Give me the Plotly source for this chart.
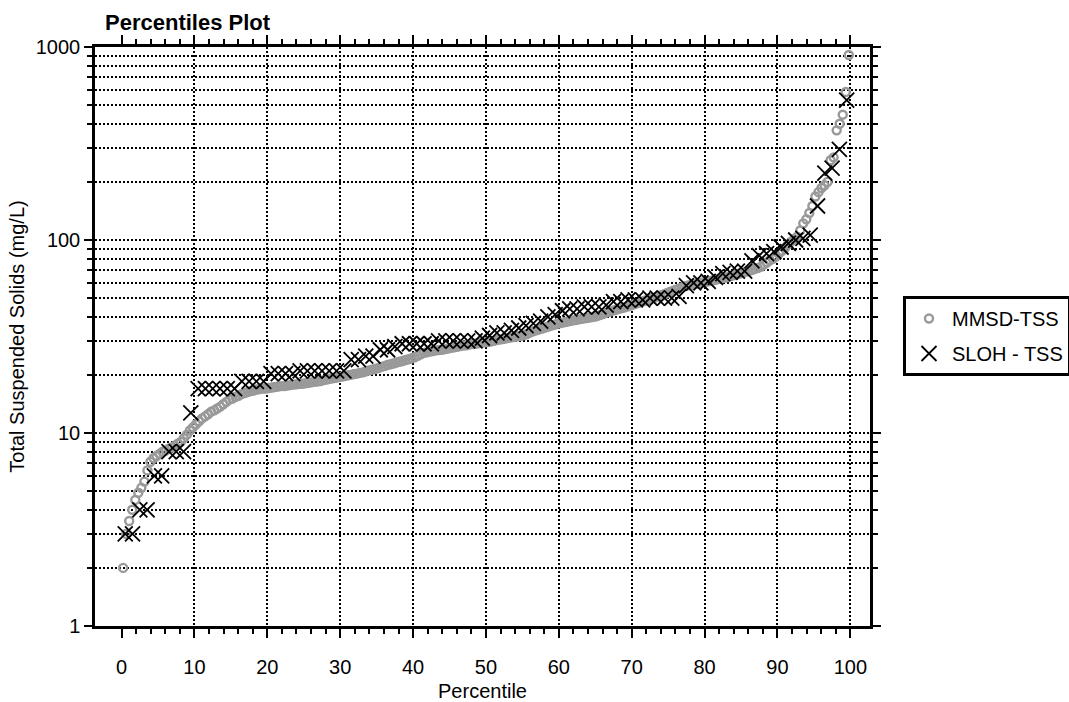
import plotly.graph_objects as go

# ---- data (sorted values) ----
mmsd_values = [
    2.0, 3.0, 3.5, 4.0, 4.5, 4.9, 5.2, 5.6, 6.4, 7.1,
    7.4, 7.6, 7.8, 8.0, 8.1, 8.3, 8.4, 8.6, 8.8, 9.0,
    9.4, 9.8, 10.3, 10.7, 11.1, 11.5, 11.9, 12.2, 12.5, 12.9,
    13.1, 13.4, 13.7, 14.1, 14.5, 14.9, 15.1, 15.4, 15.6, 15.9,
    16.1, 16.3, 16.5, 16.6, 16.8, 16.9, 17.0, 17.0, 17.1, 17.2,
    17.3, 17.4, 17.5, 17.5, 17.6, 17.7, 17.8, 17.9, 18.0, 18.0,
    18.1, 18.2, 18.3, 18.4, 18.5, 18.6, 18.8, 18.9, 19.1, 19.2,
    19.3, 19.5, 19.6, 19.7, 19.9, 20.0, 20.2, 20.3, 20.5, 20.6,
    20.9, 21.1, 21.3, 21.5, 21.7, 22.0, 22.2, 22.5, 22.7, 22.9,
    23.2, 23.4, 23.6, 23.9, 24.1, 24.4, 24.7, 25.1, 25.6, 26.0,
    26.2, 26.4, 26.6, 26.8, 26.9, 27.0, 27.2, 27.4, 27.6, 27.8,
    28.0, 28.2, 28.4, 28.5, 28.7, 28.9, 29.0, 29.2, 29.4, 29.5,
    29.6, 29.8, 30.0, 30.3, 30.5, 30.7, 30.9, 31.1, 31.3, 31.5,
    31.7, 31.9, 32.2, 32.6, 33.1, 33.6, 34.0, 34.4, 34.8, 35.2,
    35.6, 36.0, 36.4, 36.8, 37.1, 37.4, 37.7, 38.0, 38.3, 38.5,
    38.8, 39.0, 39.3, 39.5, 39.8, 40.0, 40.3, 40.8, 41.3, 41.9,
    42.4, 42.9, 43.4, 43.9, 44.3, 44.7, 45.2, 45.8, 46.3, 46.9,
    47.4, 48.0, 48.6, 49.2, 49.8, 50.3, 50.9, 51.6, 52.3, 53.0,
    53.8, 54.5, 55.3, 56.0, 56.8, 57.5, 58.2, 58.5, 58.9, 59.3,
    59.8, 60.3, 60.7, 61.2, 61.7, 62.2, 62.7, 63.2, 63.7, 64.2,
    64.9, 65.6, 66.3, 67.0, 67.7, 68.4, 69.1, 69.9, 70.8, 71.6,
    72.6, 74.5, 76.5, 78.5, 80.0, 82.0, 85.0, 88.0, 91.0, 95.0,
    98.0, 101.0, 104.0, 112.0, 122.0, 128.0, 138.0, 150.0, 168.0, 177.0,
    186.0, 192.0, 200.0, 259.0, 268.0, 370.0, 400.0, 446.0, 585.0, 909.0,
]

sloh_values = [
    3, 3, 4, 4, 6, 6, 8, 8, 8, 12.7,
    17, 17, 17, 17, 17, 17, 18.5, 18.5, 18.5, 18.5,
    20.3, 20.3, 20.3, 20.3, 21, 21, 21, 21, 21, 21,
    21, 24, 24, 25, 25, 27, 27, 28, 29, 29,
    29, 29, 29, 30, 30, 30, 30, 30, 30, 31,
    32, 33, 33, 34, 35, 36, 37, 38, 40, 41,
    43, 44, 44, 45, 45, 45, 46, 48, 48, 49,
    49, 49, 50, 50, 50, 50, 51, 58, 60, 60,
    61, 64, 67, 68, 69, 69, 78, 83, 85, 87,
    92, 96, 100, 102, 106, 150, 222, 236, 295, 530,
]

# percentile = rank position within each sorted sample
mmsd_pct = [100.0 * (i + 0.5) / len(mmsd_values) for i in range(len(mmsd_values))]
sloh_pct = [100.0 * (i + 0.5) / len(sloh_values) for i in range(len(sloh_values))]

x_ticks = [0, 10, 20, 30, 40, 50, 60, 70, 80, 90, 100]
x_minor = list(range(2, 100, 2))
x_grid = [10, 20, 30, 40, 50, 60, 70, 80, 90, 100]
y_major = [1, 10, 100, 1000]
y_minor = [2, 3, 4, 5, 6, 7, 8, 9, 20, 30, 40, 50, 60, 70, 80, 90,
           200, 300, 400, 500, 600, 700, 800, 900]

FONT = "Arial, 'Liberation Sans', Helvetica, sans-serif"
GRID_DASH = "2px,2px"
FS = 20

fig = go.Figure()
fig.add_trace(go.Scatter(
    x=mmsd_pct, y=mmsd_values, mode="markers", name="MMSD-TSS",
    legendgroup="a",
    marker=dict(symbol="circle-open", size=8, color="#999999",
                line=dict(width=2.4, color="#999999")),
))
fig.add_trace(go.Scatter(
    x=sloh_pct, y=sloh_values, mode="markers", name="SLOH - TSS",
    legendgroup="b",
    marker=dict(symbol="x-thin-open", size=15, color="black",
                line=dict(width=1.8, color="black")),
))
# invisible trace carrying the overlay axis that draws vertical grid lines at 10..100
fig.add_trace(go.Scatter(x=[None], y=[None], xaxis="x2", showlegend=False,
                         hoverinfo="skip"))

fig.update_layout(
    width=1069, height=702,
    margin=dict(l=95, r=199, t=47, b=76, autoexpand=False),
    paper_bgcolor="white", plot_bgcolor="white",
    font=dict(family=FONT, size=FS, color="black"),
    title=dict(text="Percentiles Plot", x=105 / 1069, xref="container",
               xanchor="left", y=1 - 22 / 702, yref="container", yanchor="middle",
               font=dict(family=FONT, size=22, color="black", weight="bold")),
    showlegend=True,
    legend=dict(x=903 / 1069, xref="container", xanchor="left",
                y=1 - 296 / 702, yref="container", yanchor="top",
                bordercolor="black", borderwidth=3, bgcolor="white",
                font=dict(family=FONT, size=FS, color="black"),
                itemwidth=36,
                tracegroupgap=6, traceorder="grouped"),
    xaxis=dict(
        range=[-3.65, 102.7], tickmode="array", tickvals=x_ticks,
        ticks="outside", ticklen=9, tickwidth=1.5, tickcolor="black",
        showline=True, linewidth=2.5, linecolor="black", mirror="ticks",
        showgrid=False, zeroline=False, automargin=False,
        minor=dict(tickmode="array", tickvals=x_minor, ticks="outside",
                   ticklen=5, tickwidth=1.5, tickcolor="black", showgrid=False),
        title=dict(text="Percentile", standoff=10,
                   font=dict(family=FONT, size=FS, color="black")),
        tickfont=dict(family=FONT, size=FS, color="black"),
        ticklabelstandoff=12,
    ),
    xaxis2=dict(
        overlaying="x", matches="x", side="bottom",
        tickmode="array", tickvals=x_grid, showticklabels=False, ticks="",
        showline=False, zeroline=False, automargin=False,
        showgrid=True, gridcolor="black", gridwidth=1.5, griddash=GRID_DASH,
    ),
    yaxis=dict(
        type="log", range=[0, 3], tickmode="array", tickvals=y_major,
        ticktext=[str(v) for v in y_major],
        ticks="outside", ticklen=8, tickwidth=1.5, tickcolor="black",
        showline=True, linewidth=2.5, linecolor="black", mirror="ticks",
        showgrid=True, gridcolor="black", gridwidth=1.5, griddash=GRID_DASH,
        zeroline=False, automargin=False,
        minor=dict(tickmode="array", tickvals=y_minor, ticks="outside",
                   ticklen=5, tickwidth=1.5, tickcolor="black",
                   showgrid=True, gridcolor="black", gridwidth=1.5,
                   griddash=GRID_DASH),
        title=dict(text="Total Suspended Solids (mg/L)", standoff=6,
                   font=dict(family=FONT, size=FS, color="black")),
        tickfont=dict(family=FONT, size=FS, color="black"),
        ticklabelstandoff=0,
    ),
)

fig.write_html("out.html")
